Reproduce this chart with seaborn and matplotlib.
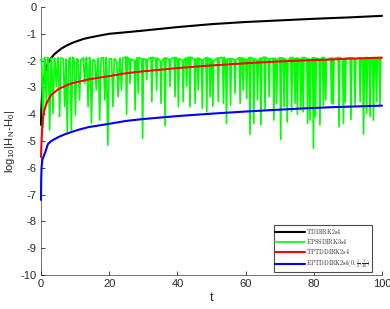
import matplotlib
matplotlib.use("Agg")
import numpy as np
import pandas as pd
import seaborn as sns
import matplotlib.pyplot as plt

# ---------------- data ----------------
black_t = [0, 0.1, 0.3, 0.7, 1.2, 2, 3, 4, 5, 6, 7.5, 9, 10, 12.5, 15, 17, 20, 26, 30, 40, 50, 60, 70, 80, 90, 100]
black_v = [-4.4, -3.8, -3.3, -2.8, -2.45, -2.1, -1.9, -1.75, -1.65, -1.55, -1.44, -1.35, -1.3, -1.19, -1.12,
           -1.07, -1.0, -0.93, -0.88, -0.75, -0.64, -0.56, -0.5, -0.44, -0.39, -0.33]

red_t = [0, 0.1, 0.3, 0.6, 1, 1.6, 3, 5, 7, 9, 14, 19, 25, 30, 40, 50, 60, 70, 76, 85, 90, 100]
red_v = [-5.6, -5.2, -4.6, -4.1, -3.85, -3.6, -3.28, -3.07, -2.95, -2.85, -2.7, -2.6, -2.47, -2.4,
         -2.28, -2.18, -2.1, -2.03, -2.0, -1.96, -1.93, -1.89]

blue_t = [0, 0.05, 0.15, 0.4, 1.0, 1.3, 2, 3, 5, 7, 9, 11, 14, 19, 25, 30, 40, 50, 60, 70, 76, 85, 100]
blue_v = [-7.2, -6.5, -6.0, -5.7, -5.5, -5.4, -5.12, -5.0, -4.86, -4.75, -4.66, -4.58, -4.48, -4.38,
          -4.25, -4.18, -4.07, -3.98, -3.9, -3.83, -3.79, -3.74, -3.68]

green_dip_t = [
    0.6, 1.56, 2.54, 3.52, 4.5, 5.47, 6.94, 7.7, 8.9, 10.1,
    11.3, 12.8, 13.8, 14.8, 16.2, 17.2, 18.7, 19.6, 21.1, 22.6,
    23.6, 25.1, 26.1, 27.6, 28.5, 29.8, 31.0, 32.5, 33.9, 35.2,
    36.4, 37.8, 39.3, 40.3, 41.7, 42.7, 43.7, 45.2, 46.1, 47.3,
    48.6, 49.6, 50.4, 52.0, 53.5, 54.4, 55.6, 56.9, 58.4, 59.3,
    60.3, 61.3, 62.4, 63.5, 64.5, 65.7, 66.9, 68.3, 69.1, 70.3,
    71.3, 72.2, 73.5, 74.5, 75.2, 76.2, 76.9, 78.2, 78.9, 79.9,
    80.5, 81.8, 82.8, 83.5, 85.2, 85.7, 87.4, 88.7, 89.2, 90.9,
    92.1, 93.6, 94.6, 95.5, 96.5, 97.5, 98.4, 99.4]
green_dip_v = [
    -4.47, -3.59, -4.59, -3.97, -2.97, -4.09, -3.72, -4.65, -4.59, -4.03,
    -3.47, -2.85, -3.72, -4.34, -3.10, -4.22, -3.47, -5.15, -3.72, -3.35,
    -3.10, -4.00, -2.85, -3.84, -3.22, -4.90, -2.72, -3.53, -3.10, -3.59,
    -4.44, -2.97, -3.35, -3.72, -3.53, -2.97, -3.72, -3.59, -3.10, -3.78,
    -3.91, -3.35, -3.70, -3.53, -3.59, -4.34, -3.66, -3.22, -3.59, -3.10,
    -3.41, -4.75, -4.34, -3.47, -4.40, -3.84, -3.35, -4.22, -3.59, -4.94,
    -3.72, -4.28, -3.91, -3.59, -4.00, -3.84, -3.91, -4.34, -4.22, -5.27,
    -4.09, -4.40, -3.66, -3.47, -3.59, -3.62, -4.47, -4.34, -3.53, -4.19,
    -3.66, -3.53, -4.74, -3.97, -4.09, -4.22, -3.53, -3.66]
green_top = [
    -1.92, -1.88, -1.95, -1.90, -2.02, -1.89, -1.94, -1.99, -1.88, -1.93,
    -1.97, -1.90, -1.88, -1.96, -2.00, -1.91, -1.89, -1.95, -1.92, -2.03,
    -1.90, -1.87, -1.94, -1.99, -1.89, -1.93, -1.96, -1.88, -1.91, -2.01,
    -1.90, -1.95, -1.88, -1.93, -1.98, -1.90, -1.87, -1.94, -1.91, -1.97,
    -1.89, -1.93, -2.00, -1.90, -1.88, -1.95, -1.92, -1.97, -1.89, -1.91,
    -1.96, -1.88, -1.93, -1.99, -1.90, -1.87, -1.94, -1.91, -1.96, -1.89,
    -1.92, -1.98, -1.88, -1.93, -1.90, -1.95, -1.88, -1.92, -1.97, -1.89,
    -1.91, -1.94, -1.88, -1.96, -1.90, -1.93, -1.88, -1.95, -1.91, -1.89,
    -1.94, -1.90, -1.97, -1.88, -1.92, -1.95, -1.89, -1.91]
green_start = (0.0, -2.0)

labels = [r'$\mathrm{TDDIRK2s4}$', r'$\mathrm{EPSSDIRK3s4}$', r'$\mathrm{TPTDDIRK2s4}$',
          r'$\mathrm{EPTDDIRK2s4}(0,\frac{1}{2},\frac{1}{40})$']
colors = ['#000000', '#00ff00', '#ff0000', '#0000ff']
xticks = [0, 20, 40, 60, 80, 100]
yticks = [0, -1, -2, -3, -4, -5, -6, -7, -8, -9, -10]

# --------------- build green polyline from read-off dips ---------------
g_t = [green_start[0]]
g_v = [green_start[1]]
for t, v, top in zip(green_dip_t, green_dip_v, green_top):
    hw = 0.4 if t < 25 else 0.25
    g_t += [max(t - hw, 0.0), t, min(t + hw, 100.0)]
    g_v += [top, v, top]

# ---------------- plot ----------------
sns.set_style("ticks")
plt.rcParams['font.family'] = ['Liberation Sans', 'DejaVu Sans']
plt.rcParams['axes.unicode_minus'] = False
plt.rcParams['mathtext.fontset'] = 'cm'

fig = plt.figure(figsize=(3.9, 3.09), dpi=100)
ax = fig.add_axes([41 / 390, 1 - 275 / 309, 341 / 390, 268 / 309])

series = [(black_t, black_v), (g_t, g_v), (red_t, red_v), (blue_t, blue_v)]
widths = [1.5, 1.2, 1.5, 1.5]
for (tt, vv), lab, col, lw in zip(series, labels, colors, widths):
    df = pd.DataFrame({'t': tt, 'v': vv})
    sns.lineplot(data=df, x='t', y='v', color=col, linewidth=lw, label=lab,
                 estimator=None, sort=False, ax=ax, clip_on=False)

ax.set_xlim(0, 100)
ax.set_ylim(-10, 0)
ax.set_xticks(xticks)
ax.set_yticks(yticks)
ax.set_xticklabels([str(x) for x in xticks])
ax.set_yticklabels([str(y) for y in yticks])
for s in ['top', 'right']:
    ax.spines[s].set_visible(False)
for s in ['left', 'bottom']:
    ax.spines[s].set_color('0.35')
    ax.spines[s].set_linewidth(0.6)
    ax.spines[s].set_zorder(0.5)
ax.tick_params(direction='in', length=3, width=0.6, labelsize=8, colors='0.15', pad=3)
ax.set_xlabel('t', fontsize=9, labelpad=2)
ax.set_ylabel(r'log$_{\mathregular{10}}$|H$_{\mathregular{N}}$-H$_{\mathregular{0}}$|', fontsize=8, labelpad=3)

leg = ax.legend(loc='lower right', bbox_to_anchor=(0.971, 0.011), borderaxespad=0,
                fontsize=4.4, handlelength=4.8, handletextpad=0.2, labelspacing=0.2,
                borderpad=0.28, fancybox=False, framealpha=1, edgecolor='0.3')
leg.get_frame().set_linewidth(0.8)

fig.savefig('out.png', dpi=100)
